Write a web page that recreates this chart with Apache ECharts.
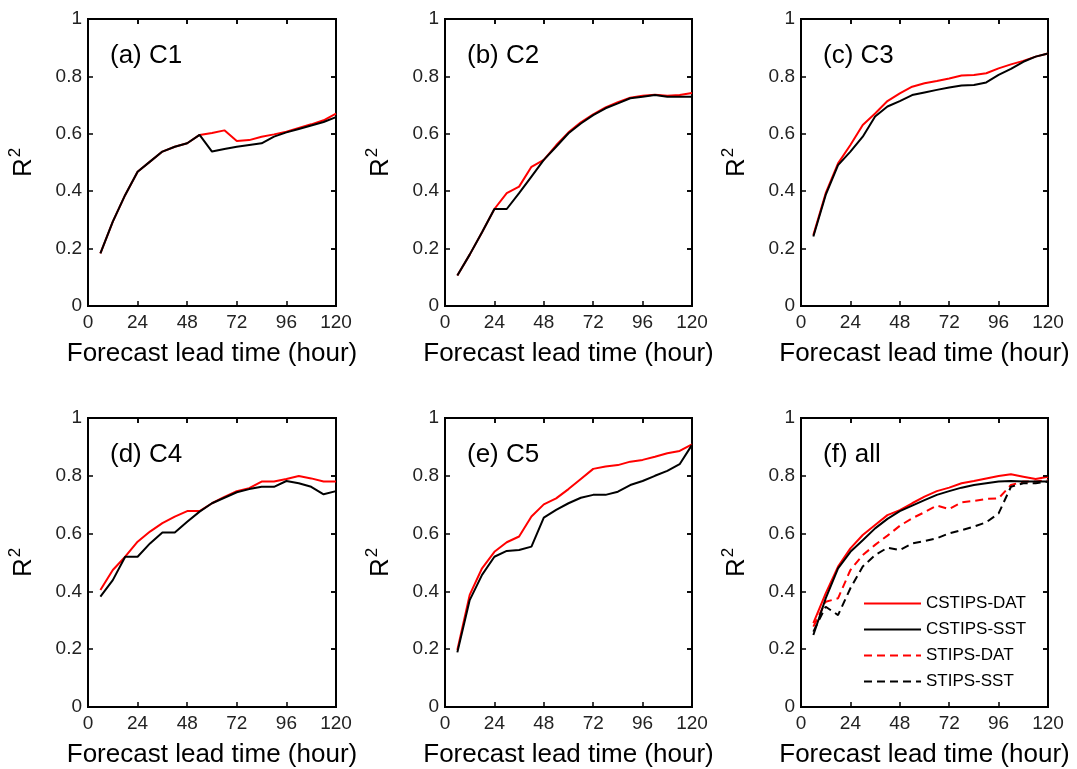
<!DOCTYPE html>
<html>
<head>
<meta charset="utf-8">
<script src="https://cdn.jsdelivr.net/npm/echarts@6/dist/echarts.min.js"></script>
<style>
body{margin:0;background:#fff;}
.c{width:1077px;height:769px;}
</style>
</head>
<body>
<div id="chart" class="c"></div>
<script>
// ---- data ----
const hours = [6,12,18,24,30,36,42,48,54,60,66,72,78,84,90,96,102,108,114,120];
const xTicks = [0,24,48,72,96,120];
const yTicks = [0,0.2,0.4,0.6,0.8,1];
const panelLabels = ['(a) C1','(b) C2','(c) C3','(d) C4','(e) C5','(f) all'];
const legendNames = ['CSTIPS-DAT','CSTIPS-SST','STIPS-DAT','STIPS-SST'];

const c1_DAT = [0.183,0.294,0.387,0.468,0.503,0.538,0.555,0.567,0.596,0.603,0.612,0.575,0.578,0.590,0.598,0.607,0.620,0.633,0.647,0.670];
const c1_SST = [0.183,0.294,0.387,0.468,0.503,0.538,0.555,0.567,0.596,0.538,0.547,0.555,0.561,0.567,0.590,0.605,0.617,0.629,0.641,0.658];

const c2_DAT = [0.106,0.179,0.257,0.338,0.393,0.416,0.485,0.509,0.560,0.605,0.640,0.668,0.692,0.710,0.726,0.733,0.736,0.733,0.735,0.742];
const c2_SST = [0.106,0.179,0.257,0.338,0.338,0.393,0.451,0.509,0.555,0.602,0.636,0.665,0.689,0.706,0.724,0.729,0.735,0.729,0.729,0.729];

const c3_DAT = [0.247,0.393,0.497,0.561,0.631,0.671,0.714,0.741,0.764,0.776,0.784,0.793,0.803,0.805,0.811,0.828,0.842,0.854,0.869,0.880];
const c3_SST = [0.242,0.387,0.491,0.538,0.590,0.660,0.695,0.714,0.735,0.744,0.753,0.761,0.768,0.770,0.779,0.805,0.826,0.851,0.869,0.880];

const c4_DAT = [0.405,0.474,0.520,0.572,0.607,0.636,0.659,0.678,0.678,0.705,0.727,0.747,0.757,0.780,0.780,0.789,0.799,0.791,0.780,0.780];
const c4_SST = [0.382,0.439,0.520,0.520,0.566,0.604,0.604,0.641,0.676,0.705,0.724,0.743,0.754,0.762,0.762,0.782,0.774,0.762,0.736,0.747];

const c5_DAT = [0.197,0.388,0.480,0.537,0.570,0.590,0.659,0.701,0.722,0.754,0.789,0.824,0.832,0.837,0.849,0.855,0.866,0.878,0.886,0.909];
const c5_SST = [0.189,0.370,0.457,0.520,0.540,0.543,0.555,0.655,0.682,0.705,0.724,0.734,0.734,0.745,0.768,0.782,0.800,0.817,0.840,0.907];

const all_CSTIPS_DAT = [0.290,0.393,0.486,0.549,0.595,0.630,0.664,0.681,0.705,0.728,0.747,0.759,0.774,0.782,0.791,0.799,0.805,0.797,0.789,0.797];
const all_CSTIPS_SST = [0.249,0.376,0.480,0.537,0.577,0.618,0.651,0.678,0.697,0.716,0.734,0.747,0.759,0.768,0.774,0.780,0.782,0.780,0.780,0.780];
const all_STIPS_DAT  = [0.278,0.364,0.376,0.474,0.526,0.561,0.593,0.627,0.653,0.674,0.697,0.685,0.708,0.713,0.720,0.722,0.768,0.780,0.780,0.785];
const all_STIPS_SST  = [0.261,0.347,0.318,0.411,0.486,0.526,0.551,0.543,0.566,0.574,0.584,0.601,0.612,0.624,0.639,0.670,0.762,0.774,0.774,0.780];

// ---- layout ----
const FONT = 'Liberation Sans, Arial, sans-serif';
const colLeft = [88, 445, 801];
const colWidth = [248, 247, 247];
const rowTop = [19, 418];
const rowHeight = [287, 289];
const X_MIN = xTicks[0], X_MAX = xTicks[xTicks.length-1];
const Y_MIN = yTicks[0], Y_MAX = yTicks[yTicks.length-1];

function pairs(ys){ return hours.map((h,i)=>[h, ys[i]]); }

const grids = [], xAxes = [], yAxes = [], titles = [], series = [];
const lineS = () => ({show:true, onZero:false, lineStyle:{color:'#000', width:2}});
const tickS = () => ({show:true, inside:true, length:5, lineStyle:{color:'#000', width:1.5}});
for (let p = 0; p < 6; p++) {
  const r = Math.floor(p/3), c = p%3;
  grids.push({left:colLeft[c], top:rowTop[r], width:colWidth[c], height:rowHeight[r],
    show:true, borderColor:'#000', borderWidth:2});
  xAxes.push({gridIndex:p, type:'value', position:'bottom', min:X_MIN, max:X_MAX, interval:24,
    axisLine:lineS(), axisTick:tickS(), splitLine:{show:false},
    axisLabel:{fontSize:19, color:'#222', margin:7},
    name:'Forecast lead time (hour)', nameLocation:'middle', nameGap:35,
    nameTextStyle:{fontSize:26, color:'#000'}});
  xAxes.push({gridIndex:p, type:'value', position:'top', min:X_MIN, max:X_MAX, interval:24,
    axisLine:lineS(), axisTick:tickS(), splitLine:{show:false}, axisLabel:{show:false}});
  yAxes.push({gridIndex:p, type:'value', position:'left', min:Y_MIN, max:Y_MAX, interval:0.2,
    axisLine:lineS(), axisTick:tickS(), splitLine:{show:false},
    axisLabel:{fontSize:19, color:'#222', margin:6},
    name:'{r|R}{s|2}', nameLocation:'middle', nameGap:51, nameRotate:90,
    nameTextStyle:{rich:{r:{fontSize:26, color:'#000', lineHeight:30, verticalAlign:'bottom'},
                         s:{fontSize:17, color:'#000', lineHeight:30, verticalAlign:'top', padding:[0,0,8,1]}}}});
  yAxes.push({gridIndex:p, type:'value', position:'right', min:Y_MIN, max:Y_MAX, interval:0.2,
    axisLine:lineS(), axisTick:tickS(), splitLine:{show:false}, axisLabel:{show:false}});
  titles.push({text:panelLabels[p], left:colLeft[c] + 22, top:rowTop[r] + 24, padding:0,
    textStyle:{fontSize:26, fontWeight:'normal', color:'#000'}});
}

// frame (box) and top/right inner ticks, drawn in data space through each panel's scales
function frameMarkers(p) {
  const r = Math.floor(p/3), c = p%3;
  const tx = 5 / colWidth[c] * (X_MAX - X_MIN);   // 5 px tick length in x units
  const ty = 5 / rowHeight[r] * (Y_MAX - Y_MIN);  // 5 px tick length in y units
  const segs = [];
  xTicks.slice(1, -1).forEach(x => segs.push([{coord:[x, Y_MAX]}, {coord:[x, Y_MAX - ty]}]));
  yTicks.slice(1, -1).forEach(y => segs.push([{coord:[X_MAX, y]}, {coord:[X_MAX - tx, y]}]));
  return {
    markArea:{silent:true, label:{show:false},
      itemStyle:{color:'rgba(0,0,0,0)', borderColor:'#000', borderWidth:2},
      data:[[{coord:[X_MIN, Y_MIN]}, {coord:[X_MAX, Y_MAX]}]]},
    markLine:{silent:true, symbol:['none','none'], label:{show:false},
      lineStyle:{color:'#000', width:1.5, type:'solid'}, data:segs}
  };
}

// DAT series on bottom/left axes, SST series on the identical top/right axes
function addLine(p, name, data, color, dashed, secondary, withFrame) {
  const k = secondary ? 1 : 0;
  const s = {name:name, type:'line', xAxisIndex:2*p+k, yAxisIndex:2*p+k, data:pairs(data),
    symbol:'none', silent:true, animation:false,
    lineStyle:{color:color, width:2, type: dashed ? [8,5] : 'solid'},
    itemStyle:{color:color}};
  if (withFrame) { s.clip = false; Object.assign(s, frameMarkers(p)); }
  series.push(s);
}
const panelData = [[c1_DAT,c1_SST],[c2_DAT,c2_SST],[c3_DAT,c3_SST],[c4_DAT,c4_SST],[c5_DAT,c5_SST]];
panelData.forEach((d,p)=>{
  addLine(p, 'p'+p+'a', d[0], '#ff0000', false, false, true);
  addLine(p, 'p'+p+'b', d[1], '#000000', false, true, false);
});
addLine(5, 'STIPS-DAT', all_STIPS_DAT, '#ff0000', true, false, true);
addLine(5, 'STIPS-SST', all_STIPS_SST, '#000000', true, true, false);
addLine(5, 'CSTIPS-DAT', all_CSTIPS_DAT, '#ff0000', false, false, false);
addLine(5, 'CSTIPS-SST', all_CSTIPS_SST, '#000000', false, true, false);

const chart = echarts.init(document.getElementById('chart'));
chart.setOption({
  backgroundColor:'#fff',
  animation:false,
  textStyle:{fontFamily:FONT},
  title:titles,
  grid:grids,
  xAxis:xAxes,
  yAxis:yAxes,
  legend:{data:legendNames, orient:'vertical', left:863, top:595, itemWidth:57, itemHeight:14, itemGap:9,
    padding:0, selectedMode:false, itemStyle:{opacity:0},
    textStyle:{fontSize:17, color:'#000'}},
  series:series
});
</script>
</body>
</html>
